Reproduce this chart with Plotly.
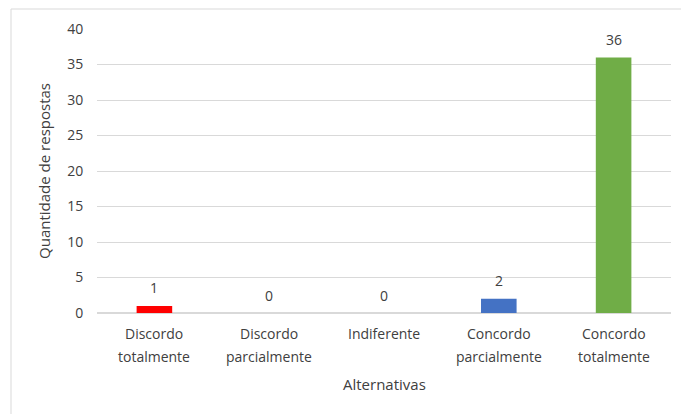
import plotly.graph_objects as go

categories = ["Discordo totalmente", "Discordo parcialmente", "Indiferente",
              "Concordo parcialmente", "Concordo totalmente"]
label_lines = [["Discordo", "totalmente"], ["Discordo", "parcialmente"], ["Indiferente"],
               ["Concordo", "parcialmente"], ["Concordo", "totalmente"]]
values = [1, 0, 0, 2, 36]
colors = ["#FF0000", "#FF0000", "#FF0000", "#4472C4", "#70AD47"]

FONT = "Open Sans"
TXT = "#404040"

fig = go.Figure(go.Bar(
    x=categories, y=values,
    marker=dict(color=colors, line=dict(width=0)),
))

L, R, T, B = 97, 10, 29, 101
W, H = 681, 414
pw, ph = W - L - R, H - T - B

annotations = []
# data labels
for c, v in zip(categories, values):
    annotations.append(dict(
        x=c, y=v, xref="x", yref="y", text=str(v), showarrow=False,
        yanchor="middle", yshift=18,
        font=dict(family=FONT, size=14, color=TXT),
    ))
# category labels (two lines, Excel-like spacing)
for c, lines in zip(categories, label_lines):
    for i, ln in enumerate(lines):
        annotations.append(dict(
            x=c, y=0, xref="x", yref="paper", text=ln, showarrow=False,
            yanchor="middle", yshift=-(20 + 23 * i),
            font=dict(family=FONT, size=14, color=TXT),
        ))
# x axis title
annotations.append(dict(
    x=0.5, y=0, xref="paper", yref="paper", text="Alternativas", showarrow=False,
    yanchor="middle", yshift=-71,
    font=dict(family=FONT, size=15, color=TXT),
))

fig.update_layout(
    width=W, height=H,
    margin=dict(l=L, r=R, t=T, b=B),
    paper_bgcolor="white", plot_bgcolor="white",
    bargap=0.69,
    showlegend=False,
    font=dict(family=FONT, size=14, color=TXT),
    xaxis=dict(
        showticklabels=False,
        showgrid=False, showline=True, linecolor="#D9D9D9", linewidth=1,
        ticks="",
    ),
    yaxis=dict(
        title=dict(text="Quantidade de respostas", font=dict(family=FONT, size=15, color=TXT), standoff=12),
        tickfont=dict(family=FONT, size=14, color=TXT),
        range=[0, 40], dtick=5, tick0=0,
        showgrid=True, gridcolor="#D9D9D9", gridwidth=1,
        zeroline=True, zerolinecolor="#D9D9D9",
        ticks="outside", ticklen=10, tickcolor="rgba(0,0,0,0)",
    ),
    annotations=annotations,
    shapes=[dict(
        type="rect", xref="paper", yref="paper",
        x0=(11 - L) / pw, x1=(W + 5 - L) / pw,
        y0=(H - B - (H + 5)) / ph, y1=(H - B - 9) / ph,
        line=dict(color="#D9D9D9", width=1), fillcolor="rgba(0,0,0,0)", layer="below",
    )],
)

fig.write_html("out.html")
